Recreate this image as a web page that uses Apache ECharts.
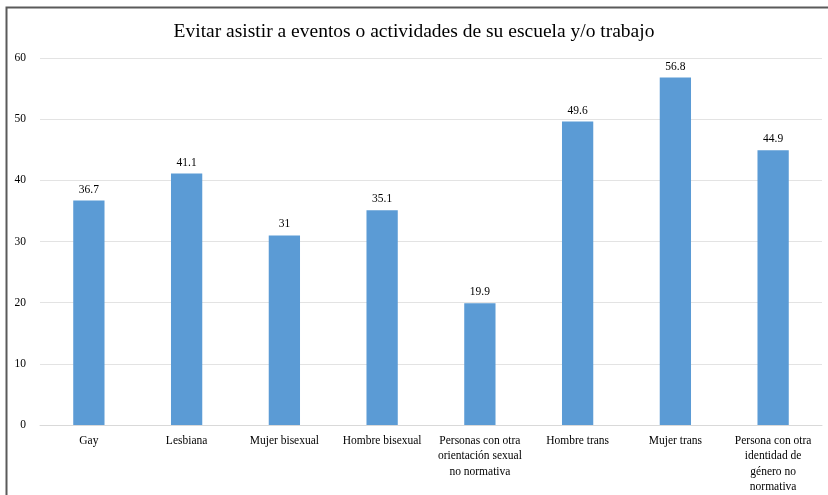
<!DOCTYPE html>
<html><head><meta charset="utf-8">
<script src="https://cdn.jsdelivr.net/npm/echarts@6/dist/echarts.min.js"></script>
<style>html,body{margin:0;padding:0;background:#fff}#c{width:828px;height:495px}</style>
</head><body><div id="c"></div>
<script>
var categories = ["Gay","Lesbiana","Mujer bisexual","Hombre bisexual","Personas con otra\norientación sexual\nno normativa","Hombre trans","Mujer trans","Persona con otra\nidentidad de\ngénero no\nnormativa"];
var values = [36.7,41.1,31,35.1,19.9,49.6,56.8,44.9];
var yTicks = [0,10,20,30,40,50,60];
var titleText = "Evitar asistir a eventos o actividades de su escuela y/o trabajo";
var font = "'Liberation Serif','Times New Roman',serif";
var chart = echarts.init(document.getElementById('c'));
chart.setOption({
  animation:false,
  backgroundColor:'#fff',
  title:{text:titleText,left:'center',top:17,textStyle:{fontFamily:font,fontSize:19.5,fontWeight:'normal',color:'#000'}},
  graphic:[{type:'rect',shape:{x:6.5,y:7.5,width:900,height:600},style:{fill:null,stroke:'#5a5a5a',lineWidth:2},silent:true}],
  grid:{left:40,right:6,top:58,bottom:69,containLabel:false},
  xAxis:{type:'category',data:categories,axisTick:{show:false},axisLine:{lineStyle:{color:'#d9d9d9'}},
    axisLabel:{interval:0,fontFamily:font,fontSize:11.5,color:'#000',lineHeight:15.5,margin:8}},
  yAxis:{type:'value',min:yTicks[0],max:yTicks[yTicks.length-1],interval:10,
    axisLine:{show:false},axisTick:{show:false},
    splitLine:{lineStyle:{color:'#e3e3e3',width:1}},
    axisLabel:{fontFamily:font,fontSize:11.5,color:'#000',margin:14}},
  series:[{type:'bar',data:values,barWidth:'32%',itemStyle:{color:'#5b9bd5'},
    label:{show:true,position:'top',distance:5,fontFamily:font,fontSize:11.5,color:'#000'}}]
});
</script></body></html>
